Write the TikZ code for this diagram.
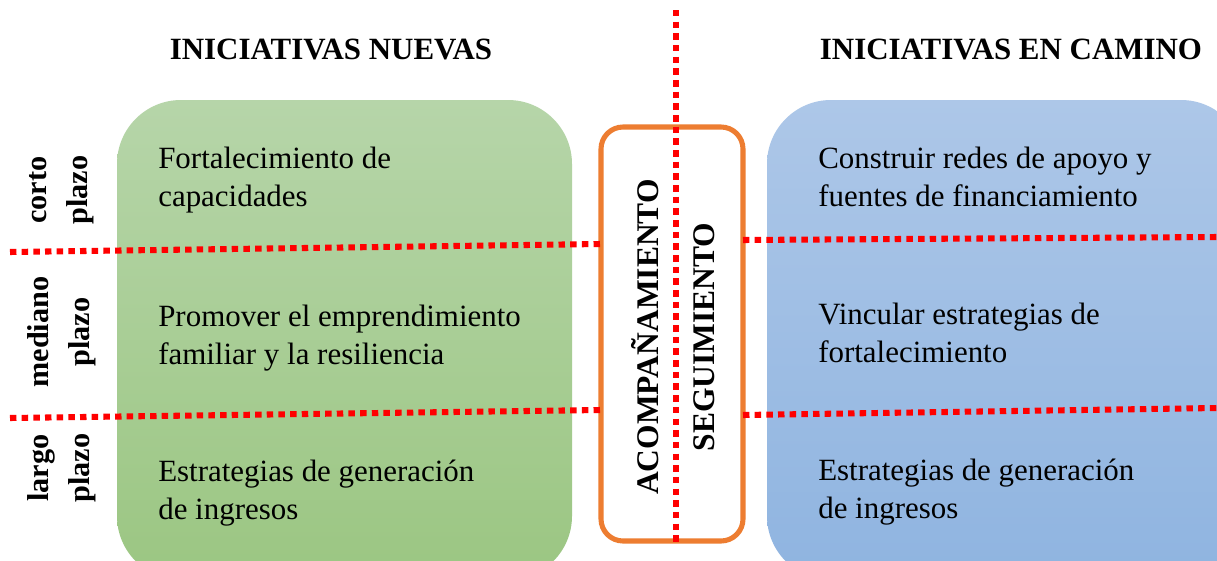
\documentclass[tikz,border=0pt]{standalone}
\usepackage{fontspec}
\setmainfont{Liberation Serif}

\definecolor{verdeclaro}{RGB}{182,213,169}
\definecolor{verdeoscuro}{RGB}{155,198,130}
\definecolor{azulclaro}{RGB}{173,199,232}
\definecolor{azuloscuro}{RGB}{143,180,224}
\definecolor{naranja}{RGB}{237,125,49}
\definecolor{rojo}{RGB}{255,0,0}

\begin{document}
\begin{tikzpicture}[x=0.025cm, y=-0.025cm,
  caja/.style={rounded corners=1.6cm},
  marco/.style={draw=naranja, line width=3.6pt, fill=white, rounded corners=0.55cm},
  punteado/.style={rojo, line width=4.3pt, dash pattern=on 4.6pt off 3.7pt},
  titulo/.style={font=\fontsize{22}{26}\selectfont\bfseries},
  plazo/.style={rotate=90, align=center, inner sep=0pt, font=\fontsize{21.5}{29}\selectfont\bfseries},
  centro/.style={rotate=90, inner sep=0pt, font=\fontsize{22.4}{29}\selectfont\bfseries},
  texto/.style={anchor=west, align=left, inner sep=0pt, font=\fontsize{22}{27}\selectfont}]
\clip (0, 0) rectangle (1217, 560);
\fill [white] (0, 0) rectangle (1217, 560);

% cajas de fondo
\shade [caja, top color=verdeclaro, bottom color=verdeoscuro] (117, 100) rectangle (572, 580);
\shade [caja, top color=azulclaro, bottom color=azuloscuro] (767, 100) rectangle (1245, 580);
\draw [marco] (601, 127) rectangle (743, 541);

% titulos
\node [titulo] (nuevas) at (331, 49) {INICIATIVAS NUEVAS};
\node [titulo] (camino) at (1011, 49) {INICIATIVAS EN CAMINO};

% plazos
\node [plazo] (corto) at (62, 190) {corto\\plazo};
\node [plazo] (mediano) at (62, 332) {mediano\\plazo};
\node [plazo] (largo) at (62, 468) {largo\\plazo};

% textos izquierda
\node [texto] (capacidades) at (158, 180) {Fortalecimiento de\\capacidades};
\node [texto] (emprendimiento) at (158, 338) {Promover el emprendimiento\\familiar y la resiliencia};
\node [texto] (ingresosA) at (158, 493) {Estrategias de generación\\de ingresos};

% textos derecha
\node [texto] (redes) at (818, 177) {Construir redes de apoyo y\\fuentes de financiamiento};
\node [texto] (vincular) at (818, 333) {Vincular estrategias de\\fortalecimiento};
\node [texto] (ingresosB) at (818, 492) {Estrategias de generación\\de ingresos};

% centro
\node [centro] (acomp) at (645, 337) {ACOMPAÑAMIENTO};
\node [centro] (seguim) at (704, 337) {SEGUIMIENTO};

% lineas punteadas
\coordinate (izq1) at (10, 252);
\coordinate (cen1) at (600, 244);
\coordinate (der1a) at (743, 240);
\coordinate (der1b) at (1217, 237);
\coordinate (izq2) at (10, 418);
\coordinate (cen2) at (600, 410);
\coordinate (der2a) at (743, 415);
\coordinate (der2b) at (1217, 408);
\coordinate (arriba) at (676, 10);
\coordinate (abajo) at (676, 545);

\draw [punteado] (izq1) -- (cen1);
\draw [punteado] (der1a) -- (der1b);
\draw [punteado] (izq2) -- (cen2);
\draw [punteado] (der2a) -- (der2b);
\draw [punteado] (arriba) -- (abajo);
\end{tikzpicture}
\end{document}
